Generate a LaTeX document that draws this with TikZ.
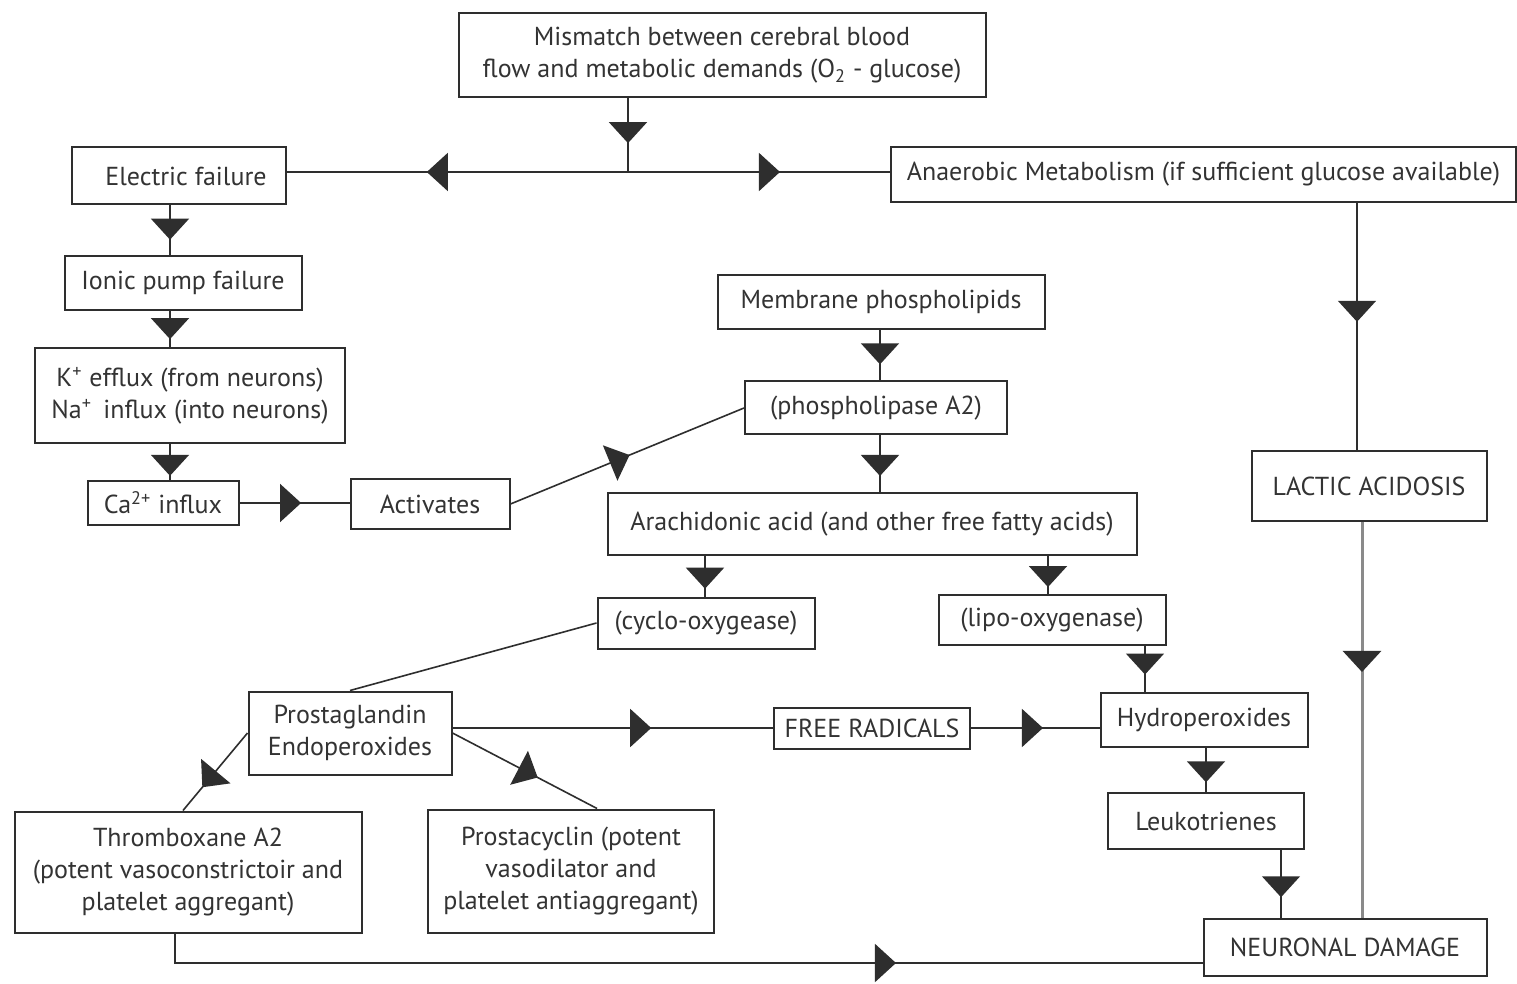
\documentclass[tikz,border=0pt]{standalone}
\usepackage{fontspec}
\setmainfont{PT Sans}
\usepackage{tikz}
\usetikzlibrary{arrows.meta,positioning,calc,decorations.markings}
\definecolor{ln}{HTML}{2E2E2E}
\definecolor{tx}{HTML}{333333}
\definecolor{gl}{HTML}{8A8A8A}
\tikzset{
  box/.style={draw=ln, line width=1pt, text=tx, align=center, inner sep=2pt},
  conn/.style={draw=ln, line width=0.8pt},
  midarrow/.style={postaction={decorate}, decoration={markings,
      mark=at position #1 with {\arrow[ln]{Triangle[width=19pt,length=10.5pt]}}}},
}

\begin{document}
\begin{tikzpicture}[x=0.5pt, y=-0.5pt, font=\fontsize{13}{16}\selectfont]
  \fill[white] (0,0) rectangle (1517,984);
  \useasboundingbox (0,0) rectangle (1517,984);

  % top row
  \node[box, minimum width=263.5pt, minimum height=42pt] (mismatch) at (722,55)
    {Mismatch between cerebral blood\\flow and metabolic demands (O\textsubscript{2} - glucose)};
  \node[box, minimum width=107pt, minimum height=28.5pt] (elec) at (179,176) {\hspace{7pt}Electric failure};
  \node[box, minimum width=312.5pt, minimum height=27.5pt] (anaer) at (1203.5,174.5)
    {Anaerobic Metabolism (if sufficient glucose available)};
  \coordinate (split) at (628,172);

  % left column
  \node[box, minimum width=118.5pt, minimum height=27pt] (ionic) at (183,283) {Ionic pump failure};
  \node[box, minimum width=155pt, minimum height=47.5pt] (kflux) at (190,396)
    {K\textsuperscript{+} efflux (from neurons)\\Na\textsuperscript{+}\ \,influx (into neurons)};
  \node[box, minimum width=75.5pt, minimum height=21.5pt] (ca) at (163,503) {Ca\textsuperscript{2+} influx};
  \node[box, minimum width=79.5pt, minimum height=25pt] (activ) at (430,504) {Activates};

  % centre column
  \node[box, minimum width=163.5pt, minimum height=27pt] (membr) at (881,302) {Membrane phospholipids};
  \node[box, minimum width=131pt, minimum height=26.5pt] (phosA) at (876,408) {(phospholipase A2)};
  \node[box, minimum width=264.5pt, minimum height=30.5pt] (arach) at (872,524)
    {Arachidonic acid (and other free fatty acids)};
  \node[box, minimum width=108.5pt, minimum height=25.5pt] (cyclo) at (706,623) {(cyclo-oxygease)};
  \node[box, minimum width=113.5pt, minimum height=25pt] (lipo) at (1052,620) {(lipo-oxygenase)};
  \node[box, minimum width=117.5pt, minimum height=34.5pt] (lactic) at (1369,486) {LACTIC ACIDOSIS};

  % lower part
  \node[box, minimum width=101.5pt, minimum height=41.5pt] (prostag) at (350,733)
    {Prostaglandin\\Endoperoxides};
  \node[box, minimum width=98pt, minimum height=20.5pt] (free) at (872,728) {FREE RADICALS};
  \node[box, minimum width=103.5pt, minimum height=27pt] (hydro) at (1204,720) {Hydroperoxides};
  \node[box, minimum width=98pt, minimum height=28pt] (leuko) at (1206,821) {Leukotrienes};
  \node[box, minimum width=173.5pt, minimum height=60.5pt] (thromb) at (188,872)
    {Thromboxane A2\\(potent vasoconstrictoir and\\platelet aggregant)};
  \node[box, minimum width=143pt, minimum height=61.5pt] (prostac) at (571,871)
    {Prostacyclin (potent\\vasodilator and\\platelet antiaggregant)};
  \node[box, minimum width=141.5pt, minimum height=28.5pt] (neuron) at (1345,947) {NEURONAL DAMAGE};

  % connectors
  \draw[conn, midarrow=0.61] (628,0 |- mismatch.south) -- (split);
  \draw[conn, midarrow=0.59] (split) -- (split -| elec.east);
  \draw[conn, midarrow=0.58] (split) -- (split -| anaer.west);
  \draw[conn, midarrow=0.69] (170,0 |- elec.south) -- (170,0 |- ionic.north);
  \draw[conn, midarrow=0.77] (170,0 |- ionic.south) -- (170,0 |- kflux.north);
  \draw[conn, midarrow=0.87] (170,0 |- kflux.south) -- (170,0 |- ca.north);
  \draw[conn, midarrow=0.56] (ca.east) -- (ca.east -| activ.west);
  \draw[conn, midarrow=0.51] (activ.east) -- (phosA.west);
  \draw[conn, midarrow=0.68] (880,0 |- membr.south) -- (880,0 |- phosA.north);
  \draw[conn, midarrow=0.71] (880,0 |- phosA.south) -- (880,0 |- arach.north);
  \draw[conn, midarrow=0.81] (705,0 |- arach.south) -- (705,0 |- cyclo.north);
  \draw[conn, midarrow=0.82] (1048,0 |- arach.south) -- (1048,0 |- lipo.north);
  \draw[conn] (cyclo.west) -- (prostag.north);
  \draw[conn, midarrow=0.62] (prostag.east |- free.west) -- (free.west);
  \draw[conn, midarrow=0.56] (free.east) -- (free.east -| hydro.west);
  \draw[conn, midarrow=0.62] (1145,0 |- lipo.south) -- (1145,0 |- hydro.north);
  \draw[conn, midarrow=0.78] (1206,0 |- hydro.south) -- (1206,0 |- leuko.north);
  \draw[conn, midarrow=0.70] (1281,0 |- leuko.south) -- (1281,0 |- neuron.north);
  \draw[conn, midarrow=0.70] (prostag.west) -- (183,0 |- thromb.north);
  \draw[conn, midarrow=0.59] (prostag.east) -- (597,0 |- prostac.north);
  \draw[conn, midarrow=0.71] (175,0 |- thromb.south) -- (175,963) -- (175,963 -| neuron.west);
  \draw[conn, midarrow=0.48] (1357,0 |- anaer.south) -- (1357,0 |- lactic.north);
  \draw[conn, draw=gl, line width=1.5pt, midarrow=0.38] (1362,0 |- lactic.south) -- (1362,0 |- neuron.north);
\end{tikzpicture}
\end{document}
